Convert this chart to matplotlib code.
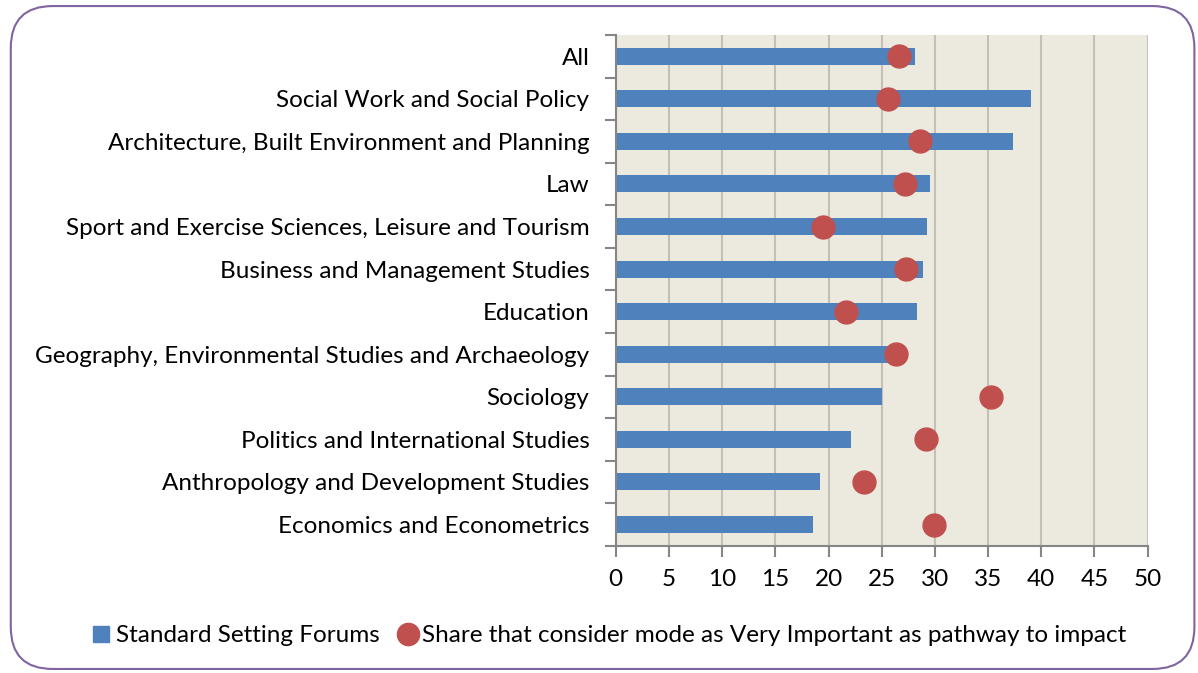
import matplotlib.pyplot as plt
from matplotlib.patches import FancyBboxPatch
from matplotlib.lines import Line2D
import numpy as np

plt.rcParams['font.family'] = ['Lato', 'DejaVu Sans']

categories = ["All", "Social Work and Social Policy",
              "Architecture, Built Environment and Planning", "Law",
              "Sport and Exercise Sciences, Leisure and Tourism",
              "Business and Management Studies", "Education",
              "Geography, Environmental Studies and Archaeology", "Sociology",
              "Politics and International Studies",
              "Anthropology and Development Studies",
              "Economics and Econometrics"]
forums = [28.1, 39.0, 37.3, 29.5, 29.3, 28.9, 28.3, 26.0, 25.0, 22.1, 19.2, 18.5]
very_important = [26.6, 25.6, 28.6, 27.2, 19.5, 27.3, 21.6, 26.3, 35.3, 29.2, 23.3, 29.9]

bar_col = "#4F81BD"
dot_col = "#C0504D"
axis_col = "#868686"

fig = plt.figure(figsize=(11.98, 6.73), dpi=100)
ax = fig.add_axes([0.514, 0.189, 0.444, 0.759])
ax.set_facecolor("#ECE9DF")

y = np.arange(len(categories))
ax.barh(y, forums, height=0.4, color=bar_col, zorder=2)
ax.plot(very_important, y, 'o', color=dot_col, markersize=16.5, zorder=3)

ax.set_xlim(0, 50)
ax.set_ylim(len(categories) - 0.5, -0.5)
ax.set_xticks(range(0, 51, 5))
ax.xaxis.grid(True, color="#C4C0B8", linewidth=1.5, zorder=0)

ax.set_yticks(y)
ax.set_yticklabels(categories, fontsize=17.5)
ax.set_yticks(np.arange(-0.5, len(categories), 1), minor=True)
ax.tick_params(axis='y', which='major', length=0, pad=19)
ax.tick_params(axis='y', which='minor', length=8, color=axis_col, width=1.5)
ax.tick_params(axis='x', length=8, color=axis_col, width=1.5, labelsize=17.5, pad=9)

for s in ['top', 'right']:
    ax.spines[s].set_visible(False)
for s in ['left', 'bottom']:
    ax.spines[s].set_color(axis_col)
    ax.spines[s].set_linewidth(1.5)

handles = [Line2D([], [], marker='s', linestyle='none', color=bar_col, markersize=11),
           Line2D([], [], marker='o', linestyle='none', color=dot_col, markersize=16)]
fig.legend(handles, ["Standard Setting Forums",
                     "Share that consider mode as Very Important as pathway to impact"],
           loc='center', bbox_to_anchor=(0.508, 0.055), ncol=2, frameon=False,
           fontsize=17.5, handletextpad=0.15, columnspacing=0.7, handlelength=0.9)

border = FancyBboxPatch((0.009, 0.006), 0.988, 0.985,
                        boxstyle="round,pad=0,rounding_size=0.035",
                        transform=fig.transFigure, facecolor='none',
                        edgecolor="#8064A2", linewidth=1.5, mutation_aspect=1198/673)
fig.patches.append(border)

plt.savefig("out.png", dpi=100)
